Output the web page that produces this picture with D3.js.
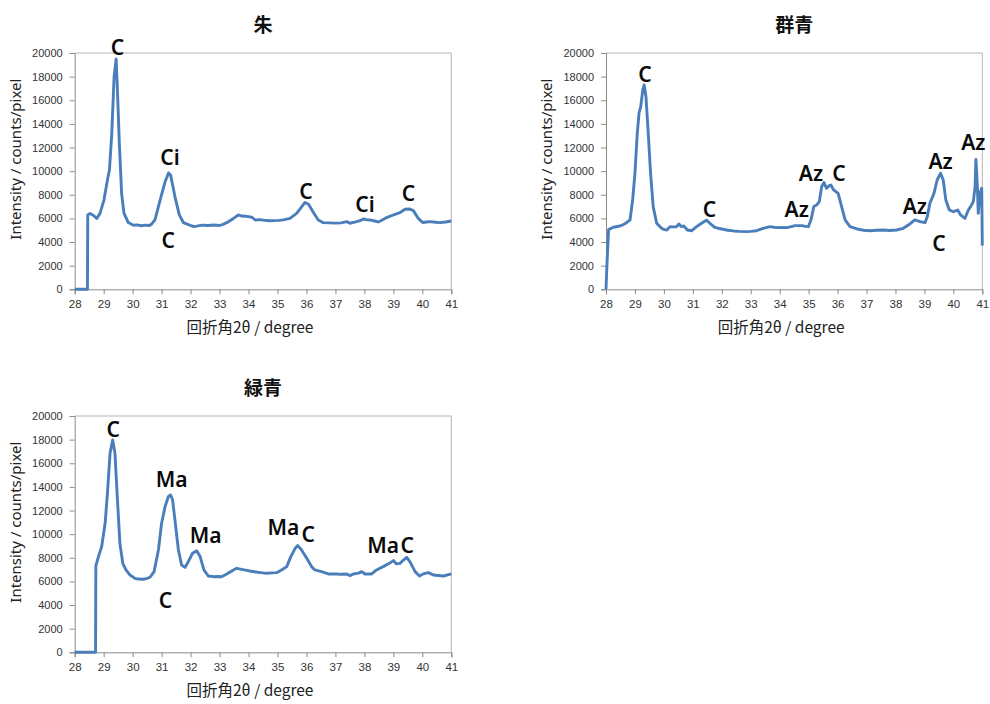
<!DOCTYPE html>
<html><head><meta charset="utf-8">
<script src="https://cdn.jsdelivr.net/npm/d3@7"></script>
<style>
body{margin:0;background:#fff;}
svg{display:block;}
</style></head>
<body>
<svg id="c" width="990" height="704"></svg>
<script>
// ---- data ----
const titles = ["朱", "群青", "緑青"];
const xTicks = [28,29,30,31,32,33,34,35,36,37,38,39,40,41];
const yTicks = [0,2000,4000,6000,8000,10000,12000,14000,16000,18000,20000];
const xLabel = "回折角2θ / degree";
const yLabel = "Intensity / counts/pixel";

const shuData = [[28.0,0],[28.44,0],[28.45,6300],[28.53,6420],[28.65,6250],[28.76,6000],[28.87,6400],[29.01,7550],[29.13,9250],[29.2,10100],[29.28,13200],[29.36,18000],[29.43,19500],[29.47,17200],[29.54,12400],[29.62,8100],[29.7,6450],[29.85,5650],[30.03,5420],[30.15,5450],[30.3,5380],[30.45,5430],[30.58,5400],[30.66,5530],[30.77,5870],[30.95,7560],[31.12,9100],[31.24,9850],[31.31,9680],[31.46,7850],[31.61,6300],[31.75,5650],[31.98,5420],[32.1,5320],[32.21,5350],[32.4,5430],[32.6,5400],[32.8,5440],[33.0,5400],[33.12,5500],[33.25,5640],[33.48,6000],[33.65,6290],[33.77,6200],[33.9,6180],[34.0,6150],[34.11,6100],[34.23,5870],[34.4,5900],[34.51,5850],[34.7,5800],[34.86,5810],[35.05,5830],[35.2,5880],[35.43,6000],[35.66,6430],[35.84,7000],[35.95,7350],[36.07,7200],[36.24,6500],[36.41,5870],[36.58,5640],[36.8,5620],[37.0,5600],[37.2,5620],[37.39,5730],[37.5,5590],[37.7,5700],[37.85,5810],[37.97,5950],[38.1,5880],[38.2,5870],[38.35,5780],[38.48,5700],[38.6,5850],[38.71,6000],[38.85,6150],[39.0,6290],[39.23,6490],[39.4,6770],[39.57,6800],[39.69,6660],[39.86,6000],[40.01,5650],[40.15,5700],[40.27,5730],[40.45,5680],[40.61,5640],[40.8,5700],[41.0,5780]];

const gunjoData = [[28.0,0],[28.04,2500],[28.09,5050],[28.25,5250],[28.48,5360],[28.6,5480],[28.71,5640],[28.83,5870],[28.92,7560],[29.0,9820],[29.08,13200],[29.14,14900],[29.2,15460],[29.27,16870],[29.32,17300],[29.38,16300],[29.46,13200],[29.54,9820],[29.63,7000],[29.75,5590],[29.92,5160],[30.02,5050],[30.1,5020],[30.21,5300],[30.33,5280],[30.44,5300],[30.52,5530],[30.61,5300],[30.69,5360],[30.81,5020],[30.96,4960],[31.13,5300],[31.3,5590],[31.47,5850],[31.59,5590],[31.76,5250],[31.9,5150],[32.05,5080],[32.2,5000],[32.4,4940],[32.6,4900],[32.86,4880],[33.0,4900],[33.2,4960],[33.43,5160],[33.66,5300],[33.8,5250],[33.95,5220],[34.1,5230],[34.24,5220],[34.4,5300],[34.53,5390],[34.76,5390],[34.9,5330],[34.99,5300],[35.08,5870],[35.18,7000],[35.28,7140],[35.37,7420],[35.45,8690],[35.53,9030],[35.62,8550],[35.7,8750],[35.77,8830],[35.85,8460],[35.94,8270],[36.02,8120],[36.14,7000],[36.26,5870],[36.43,5300],[36.72,5080],[36.9,5000],[37.12,4960],[37.35,5000],[37.58,5020],[37.8,4980],[38.04,5020],[38.27,5160],[38.5,5530],[38.67,5870],[38.85,5730],[39.02,5640],[39.1,6150],[39.19,7280],[39.33,8120],[39.44,9250],[39.56,9820],[39.65,9250],[39.74,7560],[39.86,6710],[40.0,6570],[40.15,6710],[40.25,6290],[40.4,6000],[40.52,6710],[40.63,7140],[40.69,7420],[40.75,8690],[40.78,11000],[40.83,8690],[40.86,6430],[40.92,8120],[40.98,8550],[41.0,3700]];

const rokushoData = [[28.0,0],[28.72,0],[28.73,7310],[28.82,8100],[28.93,8940],[29.05,10920],[29.13,13460],[29.22,16840],[29.31,17970],[29.39,16840],[29.47,13170],[29.56,9220],[29.66,7530],[29.77,6970],[29.91,6540],[30.08,6260],[30.2,6200],[30.37,6180],[30.5,6250],[30.6,6350],[30.74,6830],[30.89,8660],[31.0,10920],[31.12,12330],[31.23,13170],[31.31,13320],[31.38,12890],[31.46,11200],[31.58,8660],[31.69,7390],[31.81,7190],[31.92,7670],[32.07,8380],[32.21,8600],[32.33,8100],[32.46,6970],[32.61,6460],[32.79,6400],[32.95,6420],[33.07,6400],[33.25,6630],[33.48,6970],[33.59,7110],[33.76,7020],[33.9,6950],[34.05,6880],[34.2,6820],[34.34,6770],[34.5,6720],[34.63,6690],[34.8,6720],[34.97,6740],[35.14,6970],[35.32,7250],[35.46,8100],[35.61,8800],[35.7,9030],[35.83,8660],[36.01,7960],[36.18,7250],[36.29,6970],[36.52,6830],[36.76,6630],[37.04,6630],[37.2,6600],[37.39,6630],[37.5,6490],[37.62,6630],[37.8,6700],[37.91,6830],[38.02,6630],[38.25,6630],[38.42,6970],[38.65,7250],[38.86,7530],[39.0,7760],[39.11,7480],[39.23,7530],[39.35,7810],[39.46,8040],[39.57,7670],[39.75,6830],[39.9,6460],[40.03,6630],[40.21,6740],[40.38,6540],[40.55,6500],[40.73,6460],[41.0,6630]];

// peak labels: [text, 2θ, intensity at baseline]
const shuLabels = [["C",29.48,19830],["Ci",31.29,10520],["C",31.23,3470],["C",35.98,7640],["Ci",38.02,6570],["C",39.52,7470]];
const gunjoLabels = [["C",29.35,17570],["C",31.57,6090],["Az",34.59,6090],["Az",35.08,9170],["C",36.05,9170],["Az",38.67,6350],["C",39.5,3240],["Az",39.56,10160],["Az",40.69,11790]];
const rokushoLabels = [["C",29.33,18250],["Ma",31.35,13970],["Ma",32.52,9230],["C",31.13,3720],["Ma",35.2,9930],["C",36.06,9360],["Ma",38.65,8430],["C",39.48,8430]];

// ---- layout ----
const panels = [
  {title:titles[0], data:shuData, labels:shuLabels, L:74.7, R:451.3, T:53, B:289.3},
  {title:titles[1], data:gunjoData, labels:gunjoLabels, L:606, R:982.3, T:53, B:289.3},
  {title:titles[2], data:rokushoData, labels:rokushoLabels, L:74.7, R:451.3, T:416, B:652.3}
];

const svg = d3.select("#c");
panels.forEach(p => {
  const g = svg.append("g");
  const x = d3.scaleLinear().domain([28,41]).range([p.L,p.R]);
  const y = d3.scaleLinear().domain([0,20000]).range([p.B,p.T]);
  const cx = (p.L+p.R)/2;

  // top & right border
  g.append("path").attr("d",`M${p.L},${p.T}H${p.R}V${p.B}`).attr("fill","none").attr("stroke","#b5b5b5").attr("stroke-width",1);

  // y axis
  const ya = g.append("g").attr("transform",`translate(${p.L},0)`)
    .call(d3.axisLeft(y).tickValues(yTicks).tickSize(5).tickPadding(7).tickFormat(d3.format("d")));
  ya.select(".domain").attr("stroke","#8c8c8c");
  ya.selectAll(".tick line").attr("stroke","#8c8c8c");
  ya.selectAll("text").attr("fill","#333").style("font-family","'Liberation Sans',Arial,sans-serif").style("font-size","11px");

  // x axis
  const xa = g.append("g").attr("transform",`translate(0,${p.B})`)
    .call(d3.axisBottom(x).tickValues(xTicks).tickSize(5).tickPadding(6).tickFormat(d3.format("d")));
  xa.select(".domain").attr("stroke","#8c8c8c");
  xa.selectAll(".tick line").attr("stroke","#8c8c8c");
  xa.selectAll("text").attr("fill","#333").style("font-family","'Liberation Sans',Arial,sans-serif").style("font-size","11.5px");

  // line
  const line = d3.line().x(d=>x(d[0])).y(d=>y(d[1]));
  g.append("path").datum(p.data).attr("d",line).attr("fill","none")
    .attr("stroke","#4a7ebb").attr("stroke-width",2.9).attr("stroke-linejoin","round");

  // titles
  g.append("text").attr("x",cx).attr("y",p.T-21).attr("text-anchor","middle")
    .style("font-family","'Noto Sans CJK JP',sans-serif").style("font-weight","700").style("font-size","19px")
    .attr("fill","#111").text(p.title);

  // axis titles
  g.append("text").attr("x",cx-13).attr("y",p.B+44).attr("text-anchor","middle")
    .style("font-family","'Noto Sans CJK JP',sans-serif").style("font-size","15.5px").attr("fill","#222").text(xLabel);
  g.append("text").attr("transform",`translate(${p.L-54},${(p.T+p.B)/2-12}) rotate(-90)`).attr("text-anchor","middle")
    .style("font-family","'Noto Sans',sans-serif").style("font-size","15px").attr("fill","#222").text(yLabel);

  // peak labels
  g.selectAll("text.lab").data(p.labels).enter().append("text").attr("class","lab")
    .attr("x",d=>x(d[1])).attr("y",d=>y(d[2])).attr("text-anchor","middle")
    .style("font-family","'Noto Sans',sans-serif").style("font-weight","600").style("font-size","21px")
    .attr("fill","#0a0a0a").text(d=>d[0]);
});
</script>
</body></html>
